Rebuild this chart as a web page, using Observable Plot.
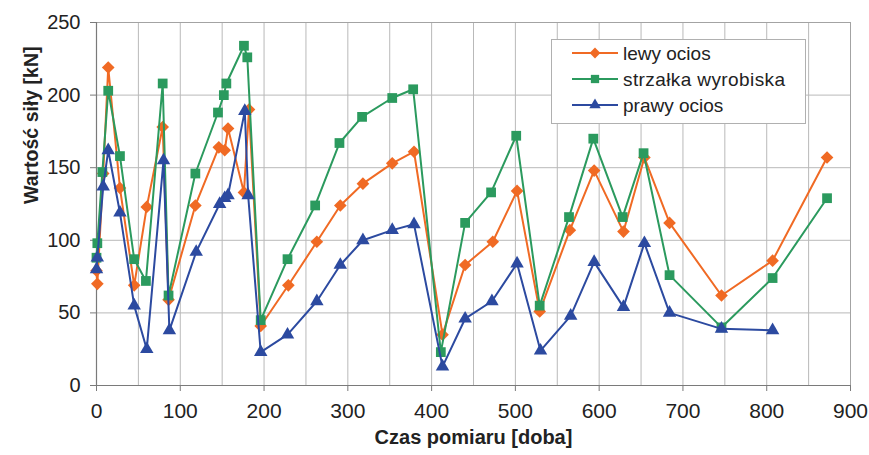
<!DOCTYPE html>
<html>
<head>
<meta charset="utf-8">
<script src="https://cdn.jsdelivr.net/npm/d3@7"></script>
<script src="https://cdn.jsdelivr.net/npm/@observablehq/plot@0.6"></script>
<style>
  html, body { margin: 0; padding: 0; background: #fff; }
  #wrap { position: relative; width: 869px; height: 455px; }
  svg { font-family: "Liberation Sans", Arial, sans-serif; }
  g[aria-label="y-axis tick label"] text { font-size: 20px; fill: #222; }
  g[aria-label="x-axis tick label"] text { font-size: 21px; fill: #222; font-family: "Liberation Sans Narrow", "Liberation Sans", sans-serif; }
  #legend { position: absolute; left: 551px; top: 39px; }
</style>
</head>
<body>
<div id="wrap"></div>
<script>
// ---- data ----
const seriesNames = ["lewy ocios", "strzałka wyrobiska", "prawy ocios"];
const seriesColors = ["#f06a24", "#2b9a5e", "#2c4aa0"];
const seriesSymbols = ["diamond2", "square", "triangle"];

const lewyX = [0,1,8,14,28,45,60,79,86,118,146,153,157,176,182,196,229,263,291,318,353,379,413,440,473,502,529,565,594,629,654,684,746,807,872];
const lewyY = [79,70,146,219,136,69,123,178,59,124,164,162,177,133,190,41,69,99,124,139,153,161,35,83,99,134,51,107,148,106,157,112,62,86,157];

const strzalkaX = [0,1,7,14,28,45,59,79,86,118,145,152,155,176,180,196,228,261,290,317,353,378,411,440,471,501,529,564,593,628,653,684,746,807,872];
const strzalkaY = [88,98,147,203,158,87,72,208,62,146,188,200,208,234,226,45,87,124,167,185,198,204,23,112,133,172,55,116,170,116,160,76,40,74,129];

const prawyX = [0,1,8,14,28,45,60,80,87,119,147,153,157,177,181,196,228,263,291,318,353,379,413,440,472,502,530,566,594,629,654,684,746,807];
const prawyY = [80,88,137,162,119,55,25,155,38,92,125,129,131,189,131,23,35,58,83,100,107,111,13,46,58,84,24,48,85,54,98,50,39,38];

const xTicks = [0,100,200,300,400,500,600,700,800,900];
const yTicks = [0,50,100,150,200,250];
const xGrid = d3.range(0, 901, 50);

const xTitle = "Czas pomiaru [doba]";
const yTitle = "Wartość siły [kN]";

// ---- build tables ----
const allX = [lewyX, strzalkaX, prawyX];
const allY = [lewyY, strzalkaY, prawyY];
const tables = allX.map((xs, i) => xs.map((x, j) => ({x, y: allY[i][j], s: seriesNames[i]})));
const radii = [5.7, 5.5, 5.0];

const seriesMarks = tables.flatMap((t, i) => [
  Plot.line(t, {x: "x", y: "y", stroke: seriesColors[i], strokeWidth: 2}),
  Plot.dot(t, {x: "x", y: "y", symbol: () => seriesSymbols[i], fill: seriesColors[i], stroke: "none", r: radii[i]})
]);

const chart = Plot.plot({
  width: 869,
  height: 455,
  marginLeft: 96,
  marginRight: 19,
  marginTop: 22,
  marginBottom: 70,
  x: {domain: [0, 900]},
  y: {domain: [0, 250]},
  symbol: {domain: seriesSymbols, range: seriesSymbols},
  marks: [
    Plot.gridX(xGrid, {stroke: "#b9b9b9", strokeOpacity: 1, strokeWidth: 1}),
    Plot.gridY(yTicks, {stroke: "#b9b9b9", strokeOpacity: 1, strokeWidth: 1}),
    Plot.frame({stroke: "#a3a3a3", strokeWidth: 1}),
    Plot.ruleX([0], {stroke: "#7a7a7a", strokeWidth: 1.2}),
    Plot.ruleY([0], {stroke: "#7a7a7a", strokeWidth: 1.2}),
    Plot.axisX({ticks: xTicks, tickSize: 6, tickPadding: 12, label: null, stroke: "#7a7a7a"}),
    Plot.axisY({ticks: yTicks, tickSize: 6, tickPadding: 10, label: null, stroke: "#7a7a7a"}),
    ...seriesMarks,
    Plot.text([xTitle], {frameAnchor: "bottom", text: d => d, dy: 58, fontSize: 20, fontWeight: "bold", fill: "#222", fontFamily: "Liberation Sans Narrow, Liberation Sans, sans-serif"}),
    Plot.text([yTitle], {frameAnchor: "left", text: d => d, dx: -65, rotate: -90, fontSize: 19.5, fontWeight: "bold", fill: "#222"})
  ]
});

const wrap = document.getElementById("wrap");
wrap.appendChild(chart);

// ---- legend ----
const lg = d3.select(wrap).append("svg")
  .attr("id", "legend")
  .attr("width", 255).attr("height", 85)
  .style("font-family", "'Liberation Sans', Arial, sans-serif");
lg.append("rect").attr("x", 0.5).attr("y", 0.5).attr("width", 254).attr("height", 84)
  .attr("fill", "#fff").attr("stroke", "#b0b0b0");
const rowsY = [14, 40, 66];
seriesNames.forEach((name, i) => {
  const g = lg.append("g").attr("transform", `translate(0,${rowsY[i]})`);
  g.append("line").attr("x1", 21).attr("x2", 67).attr("y1", 0).attr("y2", 0)
    .attr("stroke", seriesColors[i]).attr("stroke-width", 2);
  const symMap = {diamond2: d3.symbolDiamond2, square: d3.symbolSquare, triangle: d3.symbolTriangle};
  const r = radii[i] * 0.85;
  g.append("path").attr("transform", "translate(44,0)")
    .attr("d", d3.symbol(symMap[seriesSymbols[i]], Math.PI * r * r)())
    .attr("fill", seriesColors[i]);
  g.append("text").attr("x", 72).attr("y", 0).attr("dy", "0.35em")
    .attr("font-size", 19).attr("fill", "#222").attr("letter-spacing", i === 1 ? "0.4px" : "0")
    .text(name);
});
</script>
</body>
</html>
